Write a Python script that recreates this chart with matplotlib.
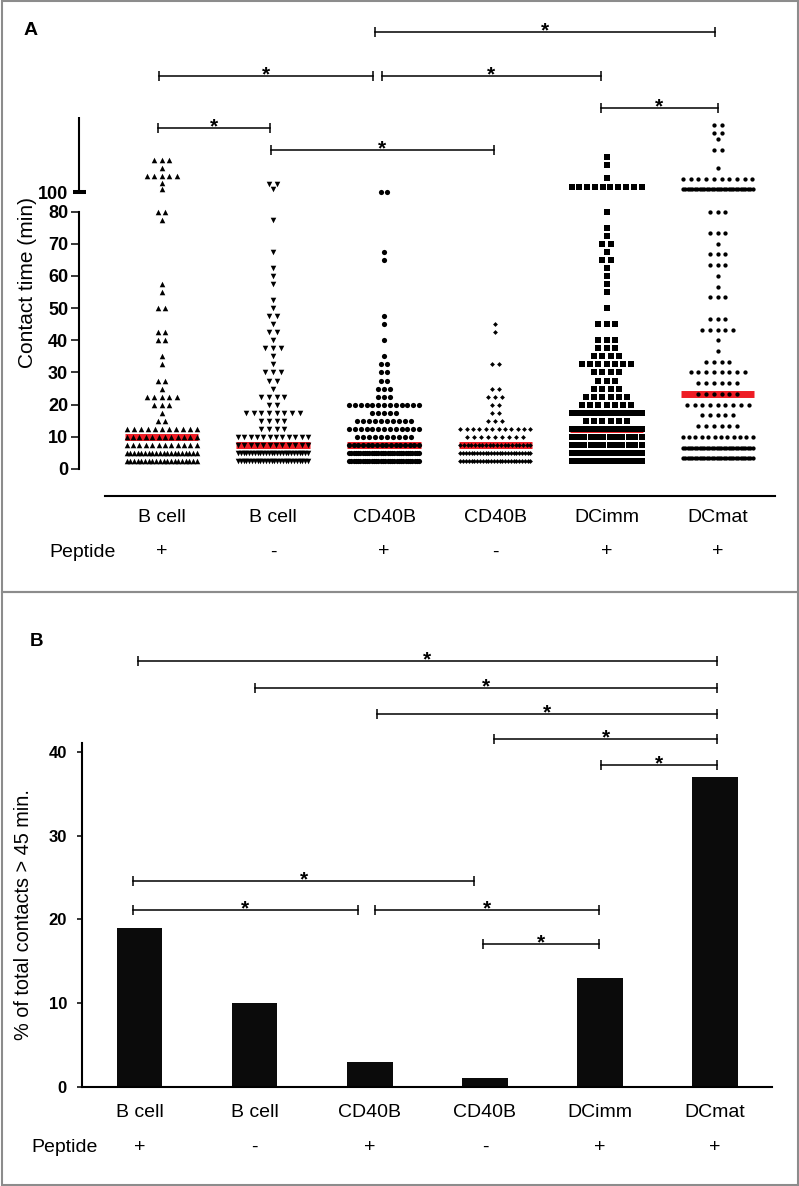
import numpy as np
import matplotlib
matplotlib.use("Agg")
import matplotlib.pyplot as plt
from matplotlib.patches import Rectangle

plt.rcParams["font.family"] = ["Liberation Sans", "DejaVu Sans"]

W_PX, H_PX = 799, 1186

groups  = ["B cell", "B cell", "CD40B", "CD40B", "DCimm", "DCmat"]
peptide = ["+", "-", "+", "-", "+", "+"]

# ---- panel A: contact times (min), value -> number of cells at that value
bcell_pos_vals   = [2.5, 5, 7.5, 10, 12.5, 15, 17.5, 20, 22.5, 25, 27.5, 32.5, 35, 40, 42.5,
                    50, 55, 57.5, 77.5, 80, 101, 103, 105, 107.5, 110]
bcell_pos_counts = [20, 20, 12, 12, 11, 2, 1, 3, 5, 1, 2, 1, 1, 2, 2,
                    2, 1, 1, 1, 2, 1, 1, 5, 1, 3]

bcell_neg_vals   = [2.5, 5, 7.5, 10, 12.5, 15, 17.5, 20, 22.5, 25, 27.5, 30, 32.5, 35, 37.5,
                    40, 42.5, 45, 47.5, 50, 52.5, 57.5, 60, 62.5, 67.5, 77.5, 101, 102.5]
bcell_neg_counts = [26, 26, 12, 12, 4, 4, 8, 2, 4, 1, 2, 3, 1, 1, 3,
                    1, 2, 1, 2, 1, 1, 1, 1, 1, 1, 1, 1, 2]

cd40_pos_vals    = [2.5, 5, 7.5, 10, 12.5, 15, 17.5, 20, 22.5, 25, 27.5, 30, 32.5, 35, 40,
                    45, 47.5, 65, 67.5, 100]
cd40_pos_counts  = [32, 32, 16, 10, 13, 10, 5, 13, 3, 3, 2, 2, 2, 1, 1,
                    1, 1, 1, 1, 2]

cd40_neg_vals    = [2.5, 5, 7.5, 10, 12.5, 15, 17.5, 20, 22.5, 25, 32.5, 42.5, 45]
cd40_neg_counts  = [26, 26, 20, 9, 12, 3, 2, 2, 3, 2, 2, 1, 1]

dcimm_vals       = [2.5, 5, 7.5, 10, 12.5, 15, 17.5, 20, 22.5, 25, 27.5, 30, 32.5, 35, 37.5,
                    40, 45, 50, 55, 57.5, 60, 62.5, 65, 67.5, 70, 72.5, 75, 80,
                    101.5, 104.5, 108.5, 111]
dcimm_counts     = [30, 30, 12, 12, 28, 6, 16, 7, 6, 4, 3, 4, 7, 4, 3,
                    3, 3, 1, 1, 1, 1, 1, 2, 1, 2, 1, 1, 1,
                    10, 1, 1, 1]

dcmat_vals       = [3.33, 6.67, 10, 13.33, 16.67, 20, 23.33, 26.67, 30, 33.33, 36.67, 40,
                    43.33, 46.67, 53.33, 56.67, 60, 63.33, 66.67, 70, 73.33, 80,
                    101, 104, 107.5, 113.3, 116.7, 118.3, 121]
dcmat_counts     = [30, 30, 12, 6, 5, 9, 6, 6, 8, 4, 1, 1,
                    5, 3, 3, 1, 1, 3, 3, 1, 3, 3,
                    30, 10, 1, 2, 1, 2, 2]

medians_a = [10, 7.5, 7.5, 7.5, 12.5, 23.33]

# ---- panel B: % of contacts > 45 min
pct_over_45 = [19, 10, 3, 1, 13, 37]

# significance brackets (group positions, height in axis units)
sig_a_start = [1.915, -0.024, 1.978, 3.95, -0.036, 0.98]
sig_a_end   = [4.978, 1.897, 3.95, 5.0, 0.974, 2.99]
sig_a_level = [149.7, 136.2, 136.2, 126.3, 120.1, 113.1]

sig_b_start = [-0.017, 1.003, 2.06, 3.08, 4.01, -0.057, -0.057, 2.045, 2.98]
sig_b_end   = [5.016, 5.016, 5.016, 5.016, 5.016, 2.906, 1.894, 3.99, 3.99]
sig_b_level = [50.86, 47.6, 44.5, 41.5, 38.45, 24.58, 21.1, 21.1, 17.05]

# broken y axis for panel A: 80..100 squeezed into a small gap
GAP_LO, GAP_HI, GAP_T = 80.0, 100.0, 6.0


def fwd(v):
    v = np.asarray(v, dtype=float)
    mid = GAP_LO + (v - GAP_LO) * GAP_T / (GAP_HI - GAP_LO)
    hi = v - (GAP_HI - GAP_LO) + GAP_T
    return np.where(v <= GAP_LO, v, np.where(v >= GAP_HI, hi, mid))


def inv(t):
    t = np.asarray(t, dtype=float)
    mid = GAP_LO + (t - GAP_LO) * (GAP_HI - GAP_LO) / GAP_T
    hi = t + (GAP_HI - GAP_LO) - GAP_T
    return np.where(t <= GAP_LO, t, np.where(t >= GAP_LO + GAP_T, hi, mid))


def fig_box(x0, y0, x1, y1):
    return [x0 / W_PX, 1 - y1 / H_PX, (x1 - x0) / W_PX, (y1 - y0) / H_PX]


def row_layout(ax, x0, vals, counts, step, half_w=35.0):
    # prism-like scatter: equal values side by side, squeezed if too many
    px_unit = ax.transData.transform((1, 0))[0] - ax.transData.transform((0, 0))[0]
    cap = int(2 * half_w // step) + 1
    xs, ys = [], []
    for v, n in zip(vals, counts):
        if n > cap:
            off = np.linspace(-half_w, half_w, n)
        else:
            off = (np.arange(n) - (n - 1) / 2) * step
        xs.extend(x0 + off / px_unit)
        ys.extend([v] * n)
    return np.array(xs), np.array(ys)


def bracket(ax, x1, x2, y, fs=15):
    ax.plot([x1, x2], [y, y], color="black", lw=1.1, marker="|", ms=7, mew=1.1,
            clip_on=False, zorder=5)
    ax.annotate("*", xy=((x1 + x2) / 2, y), xytext=(0, -3.2), textcoords="offset points",
                ha="center", va="baseline", fontsize=fs, fontweight="bold",
                annotation_clip=False)


fig = plt.figure(figsize=(W_PX / 100, H_PX / 100), dpi=100)

# panel frames
for (y0, y1) in [(1, 592), (592, 1185)]:
    fig.add_artist(Rectangle((1.5 / W_PX, 1 - y1 / H_PX), 796 / W_PX, (y1 - y0) / H_PX,
                             transform=fig.transFigure, fill=False, ec="#8c8c8c", lw=1.5))

# ================= panel A =================
axA = fig.add_axes(fig_box(79.3, 116.7, 775, 496))
axA.set_yscale("function", functions=(fwd, inv))
axA.set_xlim(-0.741, 5.515)
axA.set_ylim(-8.4, 123.5)

for s in ["top", "right"]:
    axA.spines[s].set_visible(False)
axA.spines["left"].set_bounds(0, 80)
axA.spines["bottom"].set_bounds(-0.51, 5.515)
for s in ["left", "bottom"]:
    axA.spines[s].set_linewidth(1.5)
axA.plot([0, 0], [100, 123.5], transform=axA.get_yaxis_transform(), color="black",
         lw=1.5, clip_on=False, solid_capstyle="butt")

yt = [0, 10, 20, 30, 40, 50, 60, 70, 80, 100]
axA.set_yticks(yt)
axA.set_yticklabels([str(v) for v in yt], fontsize=13, fontweight="bold")
axA.tick_params(axis="y", length=5.8, width=1.1, pad=2.2)
axA.yaxis.get_major_ticks()[-1].tick1line.set_visible(False)
axA.plot([-6 / 695.7, 7 / 695.7], [100, 100], transform=axA.get_yaxis_transform(),
         color="black", lw=2.9, solid_capstyle="butt", clip_on=False)
axA.set_xticks([])

series_a = [(bcell_pos_vals, bcell_pos_counts, "^", 16, 7.5),
            (bcell_neg_vals, bcell_neg_counts, "v", 16, 7.7),
            (cd40_pos_vals, cd40_pos_counts, "o", 14, 6.0),
            (cd40_neg_vals, cd40_neg_counts, "D", 6, 7.0),
            (dcimm_vals, dcimm_counts, "s", 16, 8.2),
            (dcmat_vals, dcmat_counts, "o", 9.5, 7.7)]

gx = np.arange(len(groups))
axA.hlines(medians_a, gx - 0.33, gx + 0.33, colors="#ee1c24", lw=5.0, zorder=2)
for i, (vals, cnts, mk, sz, step) in enumerate(series_a):
    xs, ys = row_layout(axA, i, vals, cnts, step)
    axA.scatter(xs, ys, marker=mk, s=sz, color="black", linewidths=0, zorder=3,
                clip_on=False)

for i, (g, p) in enumerate(zip(groups, peptide)):
    axA.annotate(g, xy=(i, 0), xycoords=axA.get_xaxis_transform(), xytext=(0, -21 * 0.72),
                 textcoords="offset points", ha="center", va="center", fontsize=14)
    axA.annotate(p, xy=(i, 0), xycoords=axA.get_xaxis_transform(), xytext=(0, -56 * 0.72),
                 textcoords="offset points", ha="center", va="center", fontsize=14)

for x1, x2, lv in zip(sig_a_start, sig_a_end, sig_a_level):
    bracket(axA, x1, x2, lv)

fig.text(49 / W_PX, 1 - 552 / H_PX, "Peptide", ha="left", va="center", fontsize=14)
fig.text(28 / W_PX, 1 - 282.5 / H_PX, "Contact time (min)", rotation=90,
         ha="center", va="center", fontsize=15)
fig.text(24 / W_PX, 1 - 35 / H_PX, "A", ha="left", va="baseline", fontsize=14,
         fontweight="bold")

# ================= panel B =================
axB = fig.add_axes(fig_box(82, 743, 772, 1086.7))
axB.set_xlim(-0.5, 5.494)
axB.set_ylim(0, 41.06)
axB.bar(gx, pct_over_45, width=0.395, color="#0b0b0b", zorder=2)
for s in ["top", "right"]:
    axB.spines[s].set_visible(False)
for s in ["left", "bottom"]:
    axB.spines[s].set_linewidth(1.5)
axB.set_yticks([0, 10, 20, 30, 40])
axB.set_yticklabels(["0", "10", "20", "30", "40"], fontsize=12, fontweight="bold")
axB.tick_params(axis="y", length=3.6, width=1.1, pad=7.2)
axB.set_xticks([])

for i, (g, p) in enumerate(zip(groups, peptide)):
    axB.annotate(g, xy=(i, 0), xycoords=axB.get_xaxis_transform(), xytext=(0, -26 * 0.72),
                 textcoords="offset points", ha="center", va="center", fontsize=14)
    axB.annotate(p, xy=(i, 0), xycoords=axB.get_xaxis_transform(), xytext=(0, -61 * 0.72),
                 textcoords="offset points", ha="center", va="center", fontsize=14)

for x1, x2, lv in zip(sig_b_start, sig_b_end, sig_b_level):
    bracket(axB, x1, x2, lv)

fig.text(31.6 / W_PX, 1 - 1148 / H_PX, "Peptide", ha="left", va="center", fontsize=14)
fig.text(24 / W_PX, 1 - 915 / H_PX, "% of total contacts > 45 min.", rotation=90,
         ha="center", va="center", fontsize=14.3)
fig.text(30 / W_PX, 1 - 646 / H_PX, "B", ha="left", va="baseline", fontsize=13.5,
         fontweight="bold")

fig.savefig("out.png", dpi=100)
